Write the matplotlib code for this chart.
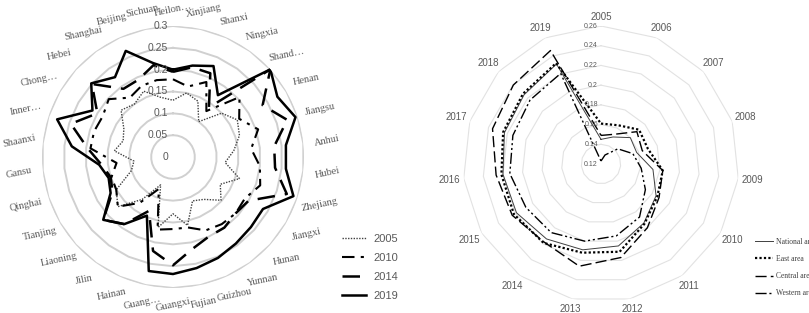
import numpy as np
import matplotlib
matplotlib.use("Agg")
import matplotlib.pyplot as plt
from matplotlib.lines import Line2D
from matplotlib.transforms import offset_copy

# ---------------- left radar: provinces ----------------
provinces = ['Heilon…', 'Xinjiang', 'Shanxi', 'Ningxia', 'Shand…', 'Henan', 'Jiangsu',
             'Anhui', 'Hubei', 'Zhejiang', 'Jiangxi', 'Hunan', 'Yunnan', 'Guizhou',
             'Fujian', 'Guangxi', 'Guang…', 'Hainan', 'Jilin', 'Liaoning', 'Tianjing',
             'Qinghai', 'Gansu', 'Shaanxi', 'Inner…', 'Chong…', 'Hebei', 'Shanghai',
             'Beijing', 'Sichuan']
v2005 = [0.13, 0.15, 0.14, 0.10, 0.15, 0.17, 0.16, 0.14, 0.12, 0.16, 0.125, 0.148, 0.12, 0.11,
         0.16, 0.13, 0.165, 0.07, 0.12, 0.17, 0.15, 0.10, 0.09, 0.135, 0.12, 0.13, 0.16, 0.15,
         0.165, 0.14]
v2010 = [0.178, 0.165, 0.188, 0.13, 0.205, 0.175, 0.205, 0.18, 0.20, 0.21, 0.19, 0.193, 0.19,
         0.184, 0.165, 0.165, 0.17, 0.08, 0.13, 0.17, 0.15, 0.148, 0.13, 0.19, 0.19, 0.186,
         0.198, 0.168, 0.178, 0.18]
v2014 = [0.195, 0.21, 0.21, 0.14, 0.30, 0.237, 0.275, 0.233, 0.235, 0.274, 0.20, 0.193, 0.20,
         0.20, 0.215, 0.248, 0.22, 0.135, 0.19, 0.215, 0.16, 0.15, 0.165, 0.197, 0.246, 0.20,
         0.25, 0.193, 0.194, 0.215]
v2019 = [0.20, 0.214, 0.228, 0.175, 0.30, 0.276, 0.295, 0.26, 0.26, 0.29, 0.238, 0.24, 0.245,
         0.253, 0.26, 0.268, 0.267, 0.147, 0.19, 0.215, 0.165, 0.155, 0.17, 0.233, 0.279, 0.213,
         0.252, 0.226, 0.266, 0.22]
left_ticks = [0, 0.05, 0.1, 0.15, 0.2, 0.25, 0.3]
left_tick_labels = ['0', '0.05', '0.1', '0.15', '0.2', '0.25', '0.3']

# ---------------- right radar: years ----------------
years = [str(y) for y in range(2005, 2020)]
national = [0.145, 0.150, 0.160, 0.158, 0.173, 0.1845, 0.194, 0.205, 0.209, 0.214, 0.219,
            0.220, 0.223, 0.225, 0.231]
east = [0.161, 0.163, 0.172, 0.170, 0.183, 0.186, 0.195, 0.211, 0.212, 0.219, 0.222, 0.2216,
        0.2244, 0.2265, 0.232]
central = [0.149, 0.153, 0.169, 0.164, 0.183, 0.188, 0.200, 0.217, 0.226, 0.218, 0.224, 0.227,
           0.2357, 0.2397, 0.246]
western = [0.123, 0.130, 0.143, 0.154, 0.161, 0.172, 0.1865, 0.1946, 0.200, 0.206, 0.208,
           0.213, 0.214, 0.2169, 0.2206]
right_ticks = [0.12, 0.14, 0.16, 0.18, 0.2, 0.22, 0.24, 0.26]
right_tick_labels = ['0.12', '0.14', '0.16', '0.18', '0.2', '0.22', '0.24', '0.26']

GRAY_TXT = '#595959'


def closed(vals):
    return list(vals) + [vals[0]]


def setup_radar(ax, n, rmin, rmax):
    ax.set_theta_zero_location('N')
    ax.set_theta_direction(-1)
    ax.set_ylim(rmin, rmax)
    ax.grid(False)
    ax.spines['polar'].set_visible(False)
    ax.set_xticks([])
    ax.set_yticks([])
    theta = np.linspace(0, 2 * np.pi, n, endpoint=False)
    return theta, np.append(theta, theta[0])


fig = plt.figure(figsize=(8.09, 3.13), dpi=100)

# ===== left chart =====
axl = fig.add_axes([42 / 809, 1 - 288 / 313, 262 / 809, 262 / 313], projection='polar')
th, thc = setup_radar(axl, len(provinces), 0, 0.3)

for r in left_ticks[1:]:
    axl.plot(thc, [r] * len(thc), color='#d0d0d0', lw=1.4, zorder=1)

series_l = [
    (v2005, '2005', dict(color='#404040', lw=1.0, ls=(0, (1, 1)))),
    (v2010, '2010', dict(color='black', lw=1.5, ls=(0, (6, 3, 1.5, 3)))),
    (v2014, '2014', dict(color='black', lw=1.8, ls=(0, (7, 4)))),
    (v2019, '2019', dict(color='black', lw=1.8, ls='-')),
]
for vals, lab, st in series_l:
    axl.plot(thc, closed(vals), zorder=3, **st)

tr_l = offset_copy(axl.transData, fig=fig, x=-5, y=0, units='dots')
for r, lab in zip(left_ticks, left_tick_labels):
    axl.text(0, r, lab, transform=tr_l, ha='right', va='center', fontsize=7.5,
             family='Liberation Sans', color=GRAY_TXT, zorder=4)

# labels sit a little further out at the sides than at top and bottom
for t, name in zip(th, provinces):
    r_lab = 0.338 + 0.017 * abs(np.sin(t))
    axl.text(t, r_lab, name, ha='center', va='center', rotation=12, fontsize=7.5,
             family='Liberation Serif', color=GRAY_TXT, clip_on=False)

hl = [Line2D([], [], **st) for _, _, st in series_l]
fig.legend(hl, [s[1] for s in series_l], loc='upper left',
           bbox_to_anchor=(332 / 809, 1 - 224 / 313), frameon=False,
           handlelength=2.2, handletextpad=0.6, labelspacing=0.8,
           prop={'family': 'Liberation Sans', 'size': 8}, labelcolor=GRAY_TXT)

# ===== right chart =====
axr = fig.add_axes([463 / 809, 1 - 302 / 313, 276 / 809, 276 / 313], projection='polar')
th2, thc2 = setup_radar(axr, len(years), 0.12, 0.26)

for r in right_ticks[1:]:
    axr.plot(thc2, [r] * len(thc2), color='#e2e2e2', lw=0.8, zorder=1)

series_r = [
    (national, 'National area', dict(color='#404040', lw=0.7, ls='-')),
    (east, 'East area', dict(color='black', lw=1.6, ls=(0, (1, 1)))),
    (central, 'Central area', dict(color='black', lw=1.0, ls=(0, (8, 3)))),
    (western, 'Western area', dict(color='black', lw=1.0, ls=(0, (8, 2, 1.5, 2, 1.5, 2)))),
]
for vals, lab, st in series_r:
    axr.plot(thc2, closed(vals), zorder=3, **st)

tr_r = offset_copy(axr.transData, fig=fig, x=-3, y=0, units='dots')
for r, lab in zip(right_ticks, right_tick_labels):
    axr.text(0, r, lab, transform=tr_r, ha='right', va='center', fontsize=5,
             family='Liberation Sans', color=GRAY_TXT, zorder=4)

for t, name in zip(th2, years):
    r_lab = 0.2695 + 0.005 * abs(np.sin(t))
    axr.text(t, r_lab, name, ha='center', va='center', fontsize=7,
             family='Liberation Sans', color=GRAY_TXT, clip_on=False)

hr = [Line2D([], [], **st) for _, _, st in series_r]
fig.legend(hr, [s[1] for s in series_r], loc='upper left',
           bbox_to_anchor=(748 / 809, 1 - 231 / 313), frameon=False,
           handlelength=2.4, handletextpad=0.35, labelspacing=1.2,
           prop={'family': 'Liberation Serif', 'size': 5.5}, labelcolor='#404040')

fig.savefig('out.png', dpi=100)
